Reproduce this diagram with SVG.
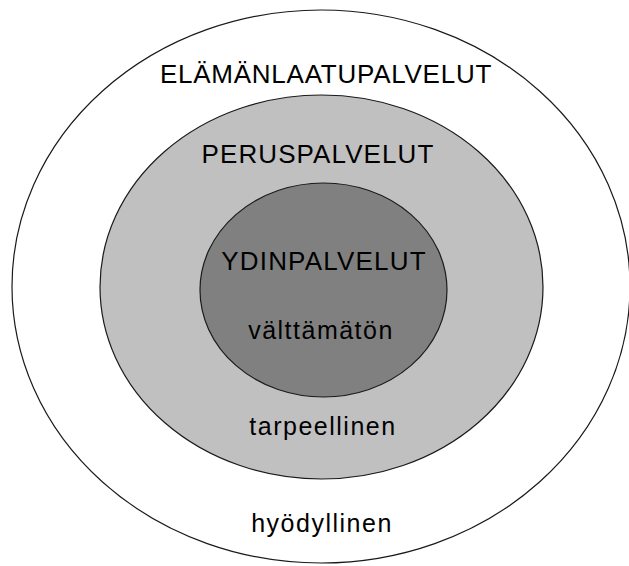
<svg xmlns="http://www.w3.org/2000/svg" width="629" height="566" viewBox="0 0 629 566">
<style>
.ring{stroke:#1a1a1a;stroke-width:1.2}
.t{font-family:"Liberation Sans",Arial,sans-serif;font-size:26px;fill:#000;text-anchor:middle}
.s{font-family:"Liberation Sans",Arial,sans-serif;font-size:25px;fill:#000;text-anchor:middle;letter-spacing:1.5px}
</style>
<rect width="629" height="566" fill="#fff"/>
<g id="outer">
<ellipse class="ring" cx="321" cy="286.5" rx="309" ry="276.5" fill="#fff"/>
<text class="t" x="326" y="83" letter-spacing="0.75">ELÄMÄNLAATUPALVELUT</text>
<text class="s" x="322" y="532">hyödyllinen</text>
</g>
<g id="middle">
<ellipse class="ring" cx="321.5" cy="287" rx="221.5" ry="192" fill="#c0c0c0"/>
<text class="t" x="318" y="163" letter-spacing="1.1">PERUSPALVELUT</text>
<text class="s" x="323" y="435">tarpeellinen</text>
</g>
<g id="inner">
<ellipse class="ring" cx="323.5" cy="290" rx="123.5" ry="107" fill="#808080"/>
<text class="t" x="324" y="270" letter-spacing="1.2">YDINPALVELUT</text>
<text class="s" x="321" y="339">välttämätön</text>
</g>
<g id="connectors"/>
</svg>
